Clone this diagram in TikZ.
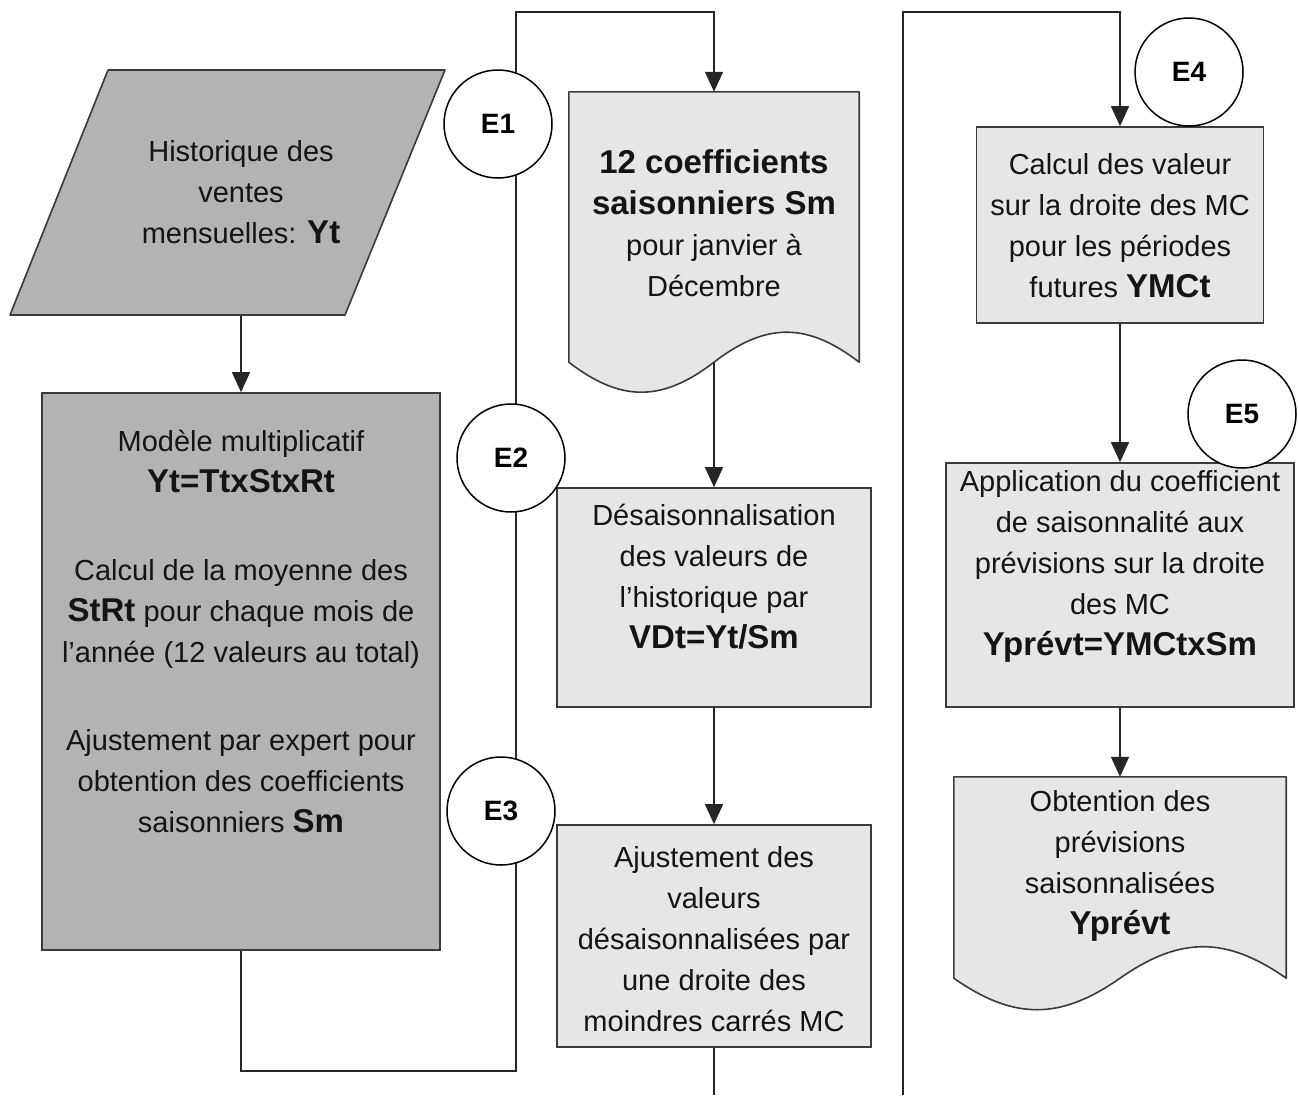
\documentclass[tikz,border=0pt]{standalone}
\usepackage{fontspec}
\setmainfont{Liberation Sans}
\usetikzlibrary{arrows.meta}

\definecolor{darkfill}{HTML}{B3B3B3}
\definecolor{lightfill}{HTML}{E6E6E6}
\definecolor{edgegray}{HTML}{3A3A3A}

\newcommand{\rgfont}{\fontsize{29}{41}\selectfont}
\newcommand{\bd}[1]{{\fontsize{33}{41}\selectfont\bfseries #1}}

\tikzset{
  boxdark/.style={draw=edgegray, line width=1.6pt, fill=darkfill, rectangle, inner sep=0pt},
  boxlight/.style={draw=edgegray, line width=1.6pt, fill=lightfill, rectangle, inner sep=0pt},
  frame/.style={rectangle, inner sep=0pt},
  shapeline/.style={draw=edgegray, line width=1.6pt, line join=round},
  txt/.style={align=center, inner sep=0pt, font=\rgfont, text=black!92},
  flow/.style={draw=black!85, line width=1.4pt},
  arr/.style={flow, -{Triangle[length=20pt,width=18pt]}},
  stepmark/.style={circle, draw=black, line width=1.5pt, fill=white,
    minimum size=108pt, inner sep=0pt, font=\fontsize{28}{28}\selectfont\bfseries}
}

\begin{document}
\begin{tikzpicture}[x=1pt,y=-1pt]
\useasboundingbox (0,0) rectangle (1298,1095);

% ---------- column 1 ----------
\node[frame, minimum width=435pt, minimum height=245pt] (hist) at (227.5,192) {};
\coordinate (hist-out) at (241,315);
\node[boxdark, minimum width=398pt, minimum height=557pt] (model) at (241,671.5) {};

% ---------- column 2 ----------
\node[frame, minimum width=290pt, minimum height=270pt] (coef) at (714,227) {};
\coordinate (coef-out) at (714,362);
\node[boxlight, minimum width=314pt, minimum height=219pt] (desais) at (714,597.5) {};
\node[boxlight, minimum width=314pt, minimum height=222pt] (ajust) at (714,936) {};
\coordinate (ajust-end) at (714,1095);

% ---------- column 3 ----------
\coordinate (loop-start) at (903,1095);
\node[boxlight, minimum width=287pt, minimum height=196pt] (calc) at (1120,225) {};
\node[boxlight, minimum width=348pt, minimum height=244pt] (appl) at (1120,585) {};
\node[frame, minimum width=332pt, minimum height=201pt] (obt) at (1120,877.5) {};

% ---------- connectors ----------
\draw[arr] (hist-out) -- (model.north);
\draw[arr] (model.south) -- ++(0,120) -| (516,12) -| (coef.north);
\draw[arr] (coef-out) -- (desais.north);
\draw[arr] (desais.south) -- (ajust.north);
\draw[flow] (ajust.south) -- (ajust-end);
\draw[arr] (loop-start) -- (903,12) -| (calc.north);
\draw[arr] (calc.south) -- (appl.north);
\draw[arr] (appl.south) -- (obt.north);

% ---------- input parallelogram ----------
\draw[shapeline, fill=darkfill] (108,70) -- (445,70) -- (345,315) -- (10,315) -- cycle;

% ---------- document shapes with wavy bottom ----------
\draw[shapeline, fill=lightfill]
  (coef.south west) -- (coef.north west) -- (coef.north east) -- (coef.south east)
  .. controls +(-52,-40) and +(52,-40) .. (coef.south)
  .. controls +(-52,40) and +(52,40) .. (coef.south west) -- cycle;
\draw[shapeline, fill=lightfill]
  (obt.south west) -- (obt.north west) -- (obt.north east) -- (obt.south east)
  .. controls +(-60,-42) and +(60,-42) .. (obt.south)
  .. controls +(-60,42) and +(60,42) .. (obt.south west) -- cycle;

% ---------- texts ----------
\node[txt] at (241,192) {Historique des\\ventes\\mensuelles: \bd{Yt}};
\node[txt] at (241,631) {Modèle multiplicatif\\\bd{Yt=TtxStxRt}\\[47pt]
  Calcul de la moyenne des\\\bd{StRt} pour chaque mois de\\l’année (12 valeurs au total)\\[47pt]
  Ajustement par expert pour\\obtention des coefficients\\saisonniers \bd{Sm}};
\node[txt] at (714,223) {\bd{12 coefficients}\\\bd{saisonniers Sm}\\pour janvier à\\Décembre};
\node[txt] at (714,577) {Désaisonnalisation\\des valeurs de\\l’historique par\\\bd{VDt=Yt/Sm}};
\node[txt] at (714,939) {Ajustement des\\valeurs\\désaisonnalisées par\\une droite des\\moindres carrés MC};
\node[txt] at (1120,226) {Calcul des valeur\\sur la droite des MC\\pour les périodes\\futures \bd{YMCt}};
\node[txt] at (1120,566) {Application du coefficient\\de saisonnalité aux\\prévisions sur la droite\\des MC\\\bd{Yprévt=YMCtxSm}};
\node[txt] at (1120,866) {Obtention des\\prévisions\\saisonnalisées\\\bd{Yprévt}};

% ---------- step markers ----------
\node[stepmark] (e1) at (498,124) {E1};
\node[stepmark] (e2) at (511,458) {E2};
\node[stepmark] (e3) at (501,811) {E3};
\node[stepmark] (e4) at (1189,72) {E4};
\node[stepmark] (e5) at (1242,414) {E5};
\end{tikzpicture}
\end{document}
